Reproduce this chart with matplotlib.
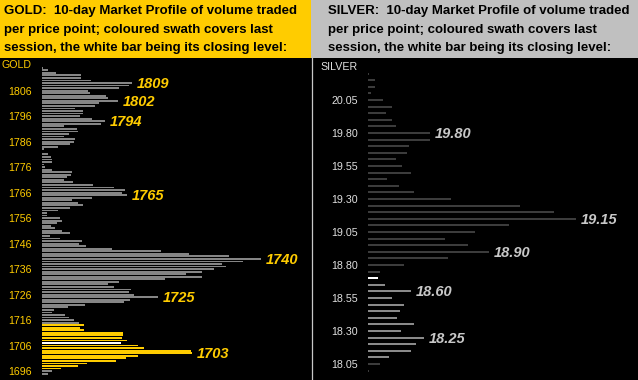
import matplotlib
matplotlib.use("Agg")
import matplotlib.pyplot as plt
import numpy as np
from matplotlib.patches import Rectangle
from matplotlib.lines import Line2D

W, H = 638, 380

# ---- gold profile: prices 1815 down to 1695, volume per price point
gold_prices = np.arange(1815, 1694, -1)
gold_vol = [3, 17, 41, 117, 117, 147, 270, 260, 230, 138,
            144, 192, 197, 227, 170, 159, 99, 122, 122, 114,
            149, 188, 176, 65, 105, 107, 80, 65, 98, 95,
            84, 47, 5, 0, 17, 26, 31, 29, 5, 9,
            29, 89, 86, 74, 65, 92, 152, 215, 248, 239,
            254, 149, 89, 107, 122, 83, 47, 14, 14, 53,
            59, 44, 26, 38, 59, 83, 23, 53, 119, 110,
            131, 209, 356, 440, 560, 656, 602, 539, 551, 515,
            479, 431, 479, 368, 230, 197, 215, 266, 260, 275,
            347, 263, 245, 128, 77, 35, 29, 68, 80, 95,
            110, 125, 113, 125, 242, 242, 239, 254, 236, 287,
            305, 446, 449, 287, 251, 221, 134, 107, 56, 29,
            17]
gold_session = (1697, 1714)
gold_close = 1707
gold_ticks = list(range(1696, 1807, 10))
gold_labels = [1809, 1802, 1794, 1765, 1740, 1725, 1703]

# ---- silver profile: prices 20.25 down to 18.00 in 0.05 steps
silver_prices = np.round(np.arange(20.25, 17.99, -0.05), 2)
silver_vol = [2, 20, 20, 8, 44, 71, 53, 71, 83, 185,
              185, 122, 116, 83, 101, 128, 56, 92, 137, 248,
              455, 557, 623, 422, 320, 230, 299, 362, 239, 107,
              36, 29, 50, 128, 71, 107, 95, 86, 137, 98,
              167, 143, 128, 62, 35, 2]
silver_session = (18.10, 18.65)
silver_close = 18.70
silver_ticks = [20.05, 19.80, 19.55, 19.30, 19.05, 18.80, 18.55, 18.30, 18.05]
silver_labels = [19.80, 19.15, 18.90, 18.60, 18.25]

GOLD = "#FFCC00"
SILVER_HDR = "#C0C0C0"

plt.rcParams['font.family'] = ['Liberation Sans', 'DejaVu Sans']

fig = plt.figure(figsize=(W / 100, H / 100), dpi=100, facecolor="black")


def fx(px):
    return px / W


def fy(py):
    return 1 - py / H


# headers
fig.patches.append(Rectangle((0, fy(58)), fx(311), 58 / H, transform=fig.transFigure,
                             facecolor=GOLD, edgecolor="none", zorder=0))
fig.patches.append(Rectangle((fx(311), fy(58)), fx(W - 311), 58 / H, transform=fig.transFigure,
                             facecolor=SILVER_HDR, edgecolor="none", zorder=0))
fig.lines.append(Line2D([fx(311.5), fx(311.5)], [0, fy(58)], transform=fig.transFigure,
                        color="#C8C8C8", lw=0.9))

hdr = ["per price point; coloured swath covers last",
       "session, the white bar being its closing level:"]
hfont = dict(weight='bold', fontsize=9.5, color="black", va="center", ha="left")
for x0, name in [(4, "GOLD"), (328, "SILVER")]:
    fig.text(fx(x0), fy(11), name + ":  10-day Market Profile of volume traded", **hfont)
    fig.text(fx(x0), fy(30), hdr[0], **hfont)
    fig.text(fx(x0), fy(48.5), hdr[1], **hfont)


def profile(ax, prices, vol, session, close, ticks, labels, fmt,
            base_col, swath_col, lab_col, tick_col, bar_h, xmax, ylim):
    cols = []
    for p in prices:
        if abs(p - close) < 1e-6:
            cols.append("white")
        elif session[0] - 1e-6 <= p <= session[1] + 1e-6:
            cols.append(swath_col)
        else:
            cols.append(base_col)
    ax.barh(prices, vol, height=bar_h, color=cols, linewidth=0, antialiased=False)
    ax.set_facecolor("black")
    ax.set_xlim(0, xmax)
    ax.set_ylim(*ylim)
    ax.set_xticks([])
    ax.set_yticks(ticks)
    ax.set_yticklabels([fmt.format(t) for t in ticks])
    ax.tick_params(axis="y", length=0, pad=7.2, labelsize=7.7, labelcolor=tick_col)
    for s in ax.spines.values():
        s.set_visible(False)
    vmap = dict(zip(np.round(prices, 2), vol))
    for lv in labels:
        ax.annotate(fmt.format(lv), xy=(vmap[round(lv, 2)], lv), xytext=(5, -1),
                    textcoords="offset pixels", va="center", ha="left",
                    fontsize=10.5, fontweight="bold", fontstyle="italic", color=lab_col)


ax_g = fig.add_axes([fx(42), 0, fx(269), 322 / H])
profile(ax_g, gold_prices, gold_vol, gold_session, gold_close, gold_ticks, gold_labels,
        "{:.0f}", "#858585", GOLD, GOLD, GOLD, 0.72, 807, (1692.5, 1818.8))

ax_s = fig.add_axes([fx(368), 0, fx(270), 322 / H])
profile(ax_s, silver_prices, silver_vol, silver_session, silver_close, silver_ticks,
        silver_labels, "{:.2f}", "#3C3C3C", "#8A8A8A", "#C8C8C8", "#E0E0E0", 0.016, 810,
        (17.929, 20.368))

fig.text(fx(32), fy(65), "GOLD", color=GOLD, fontsize=7.7, ha="right", va="center")
fig.text(fx(358), fy(67), "SILVER", color="#E0E0E0", fontsize=7.7, ha="right", va="center")

fig.savefig("out.png", dpi=100, facecolor="black")
